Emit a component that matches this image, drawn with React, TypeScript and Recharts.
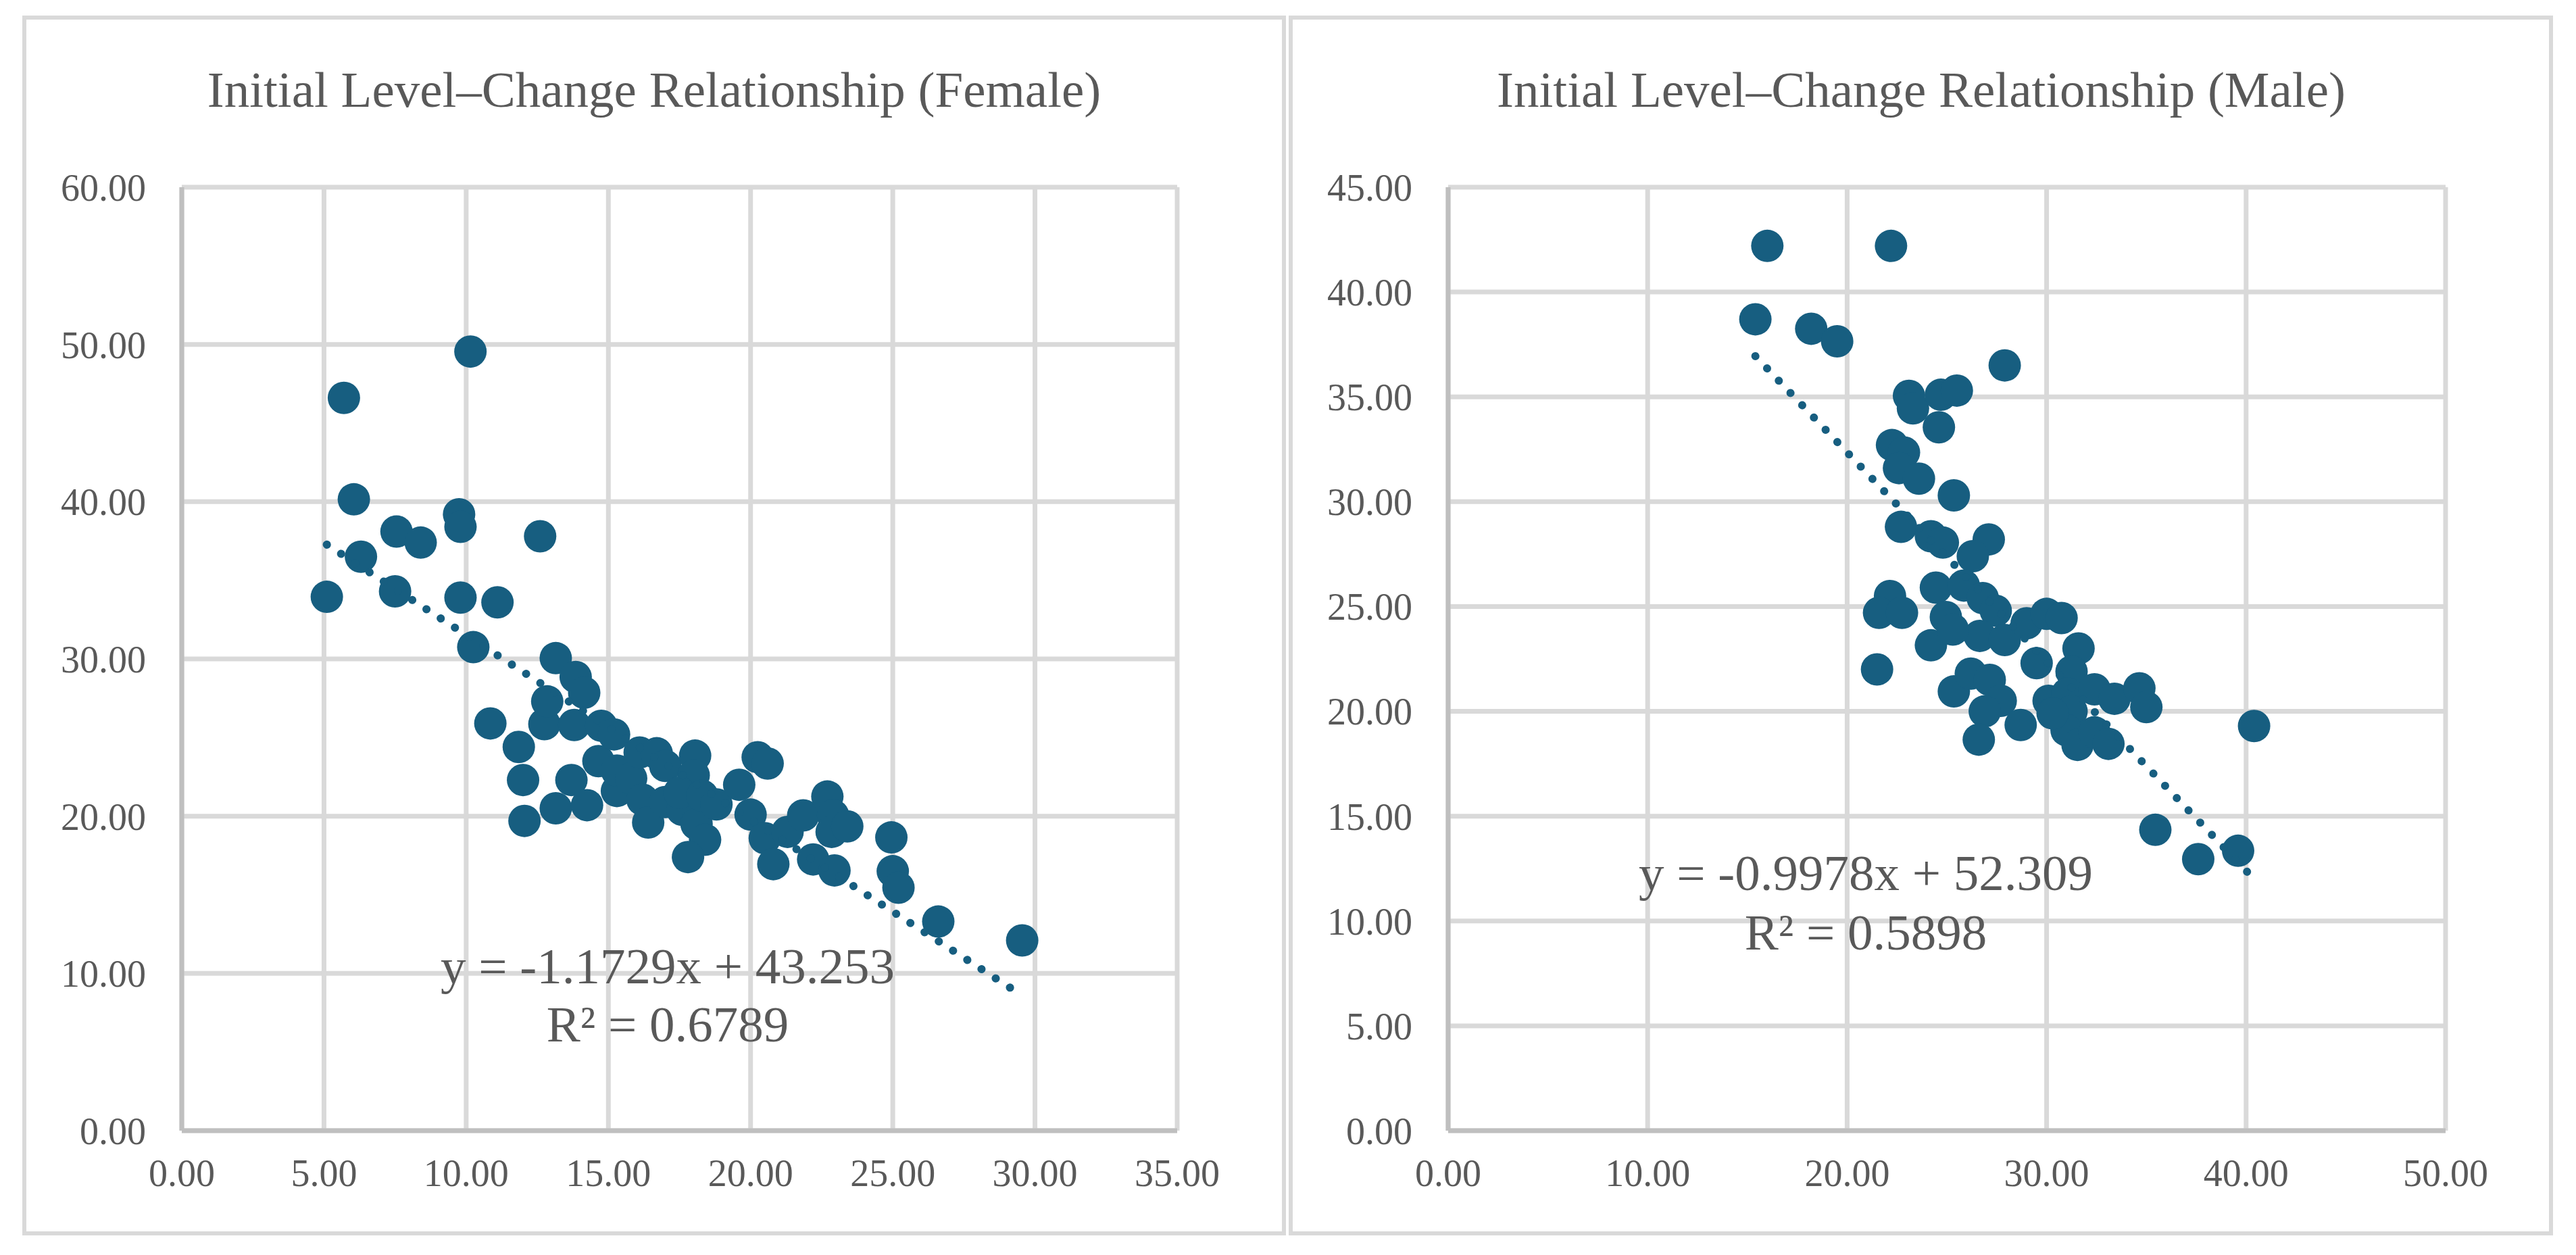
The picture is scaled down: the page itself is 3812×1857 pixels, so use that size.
import React from 'react';
import { ScatterChart, Scatter, XAxis, YAxis, CartesianGrid } from 'recharts';

// ---------- data ----------
const femaleInitial = [5.1, 5.7, 6.05, 6.3, 7.5, 7.55, 8.4, 9.75, 9.8, 9.8, 10.15, 10.25, 10.85, 11.1, 11.85, 12.0, 12.05, 12.6, 12.75, 12.85, 13.15, 13.15, 13.7, 13.8, 13.85, 14.15, 14.25, 14.65, 14.75, 15.2, 15.3, 15.3, 15.8, 16.1, 16.7, 17.0, 18.05, 18.0, 16.2, 16.4, 17.0, 17.6, 17.5, 18.1, 18.3, 18.4, 17.8, 18.8, 19.6, 20.25, 20.6, 20.0, 20.5, 21.3, 21.85, 22.7, 22.9, 22.85, 23.4, 20.8, 22.2, 22.95, 24.95, 25.0, 25.2, 26.6, 29.55];
const femaleChange = [33.95, 46.6, 40.15, 36.5, 34.3, 38.1, 37.4, 39.2, 38.4, 33.9, 49.55, 30.75, 25.9, 33.6, 24.4, 22.3, 19.7, 37.8, 25.85, 27.3, 30.05, 20.5, 22.3, 25.8, 28.85, 27.85, 20.7, 23.5, 25.75, 25.2, 21.6, 22.9, 22.4, 24.05, 24.0, 23.2, 23.85, 22.6, 21.05, 19.6, 20.9, 20.4, 21.5, 19.5, 21.3, 18.5, 17.4, 20.75, 22.0, 23.75, 23.35, 20.1, 18.6, 19.0, 20.05, 21.25, 20.05, 19.0, 19.35, 16.95, 17.25, 16.55, 18.65, 16.5, 15.45, 13.3, 12.1];

const maleInitial = [16.0, 22.2, 15.4, 18.2, 19.5, 27.9, 23.1, 23.3, 24.7, 25.5, 24.6, 22.25, 22.85, 22.6, 23.6, 25.35, 22.7, 24.2, 24.8, 27.1, 26.3, 22.15, 21.6, 22.75, 24.45, 25.85, 26.8, 27.45, 24.95, 24.2, 26.65, 27.9, 29.0, 30.0, 30.75, 29.5, 31.6, 31.25, 21.5, 25.35, 26.2, 27.15, 27.7, 26.9, 26.6, 28.7, 30.1, 31.05, 31.25, 32.4, 33.4, 34.65, 35.0, 31.0, 31.55, 32.4, 33.1, 35.45, 37.6, 39.6, 40.4, 25.3, 30.3];
const maleChange = [42.2, 42.2, 38.7, 38.25, 37.65, 36.5, 35.05, 34.45, 35.1, 35.3, 33.55, 32.7, 32.35, 31.6, 31.1, 30.3, 28.8, 28.35, 28.05, 28.2, 27.4, 25.5, 24.7, 24.7, 25.9, 26.0, 25.4, 24.8, 24.5, 23.15, 23.6, 23.4, 24.2, 24.65, 24.45, 22.3, 23.0, 21.9, 22.0, 20.95, 21.8, 21.5, 20.5, 20.0, 18.65, 19.35, 20.5, 20.85, 20.0, 21.05, 20.6, 21.1, 20.2, 19.1, 18.4, 19.0, 18.45, 14.35, 12.95, 13.35, 19.3, 23.9, 19.9];

const femaleXTicks = [0, 5, 10, 15, 20, 25, 30, 35];
const femaleYTicks = [0, 10, 20, 30, 40, 50, 60];
const maleXTicks = [0, 10, 20, 30, 40, 50];
const maleYTicks = [0, 5, 10, 15, 20, 25, 30, 35, 40, 45];

const femaleTitle = 'Initial Level–Change Relationship (Female)';
const maleTitle = 'Initial Level–Change Relationship (Male)';
const femaleEquation = 'y = -1.1729x + 43.253';
const femaleR2 = 'R² = 0.6789';
const maleEquation = 'y = -0.9978x + 52.309';
const maleR2 = 'R² = 0.5898';
const femaleSlope = -1.1729;
const femaleIntercept = 43.253;
const maleSlope = -0.9978;
const maleIntercept = 52.309;

// ---------- styles ----------
const FONT = '"Liberation Serif", "Times New Roman", serif';
const TEXT = '#595959';
const GRID = '#d9d9d9';
const AXIS = '#bfbfbf';
const MARK = '#175e80';

const toPoints = (xs: number[], ys: number[]) => xs.map((x, i) => ({ x, y: ys[i] }));
const trend = (xs: number[], slope: number, intercept: number) => {
  const lo = Math.min(...xs);
  const hi = Math.max(...xs);
  return [
    { x: lo, y: slope * lo + intercept },
    { x: hi, y: slope * hi + intercept },
  ];
};

const Dot = (p: any) => <circle cx={p.cx} cy={p.cy} r={24} fill={MARK} />;
const NoShape = () => <g />;
const fmt = (v: number) => v.toFixed(2);

type PanelProps = {
  left: number;
  xs: number[];
  ys: number[];
  slope: number;
  intercept: number;
  xTicks: number[];
  yTicks: number[];
  margin: { top: number; right: number; bottom: number; left: number };
};

const Panel = ({ left, xs, ys, slope, intercept, xTicks, yTicks, margin }: PanelProps) => {
  const data = toPoints(xs, ys);
  const line = trend(xs, slope, intercept);
  const tickStyle = { fontSize: 56, fill: TEXT, fontFamily: FONT };
  return (
    <div style={{ position: 'absolute', left, top: 0, width: 1906, height: 1857 }}>
      <ScatterChart width={1906} height={1857} margin={margin}>
        <CartesianGrid stroke={GRID} strokeWidth={7} />
        <XAxis
          type="number"
          dataKey="x"
          domain={[xTicks[0], xTicks[xTicks.length - 1]]}
          ticks={xTicks}
          tickFormatter={fmt}
          tick={tickStyle}
          tickLine={false}
          tickSize={0}
          tickMargin={42}
          axisLine={{ stroke: AXIS, strokeWidth: 7 }}
          height={100}
          allowDataOverflow
        />
        <YAxis
          type="number"
          dataKey="y"
          domain={[yTicks[0], yTicks[yTicks.length - 1]]}
          ticks={yTicks}
          tickFormatter={fmt}
          tick={tickStyle}
          tickLine={false}
          tickSize={0}
          tickMargin={53}
          axisLine={{ stroke: AXIS, strokeWidth: 7 }}
          width={200}
          allowDataOverflow
        />
        <Scatter data={data} shape={Dot} isAnimationActive={false} />
        <Scatter
          data={line}
          shape={NoShape}
          line={{ stroke: MARK, strokeWidth: 12, strokeDasharray: '0.1 25', strokeLinecap: 'round' }}
          isAnimationActive={false}
        />
      </ScatterChart>
    </div>
  );
};

export default function App() {
  return (
    <div style={{ position: 'absolute', left: 0, top: 0, width: 3812, height: 1857, background: '#fff', overflow: 'hidden' }}>
      <div style={{ position: 'absolute', left: 33, top: 23, width: 1870, height: 1805, boxSizing: 'border-box', border: `6px solid ${GRID}` }} />
      <div style={{ position: 'absolute', left: 1907, top: 23, width: 1871, height: 1805, boxSizing: 'border-box', border: `6px solid ${GRID}` }} />
      <Panel
        left={0}
        xs={femaleInitial}
        ys={femaleChange}
        slope={femaleSlope}
        intercept={femaleIntercept}
        xTicks={femaleXTicks}
        yTicks={femaleYTicks}
        margin={{ top: 277, right: 164, bottom: 84, left: 69 }}
      />
      <Panel
        left={1906}
        xs={maleInitial}
        ys={maleChange}
        slope={maleSlope}
        intercept={maleIntercept}
        xTicks={maleXTicks}
        yTicks={maleYTicks}
        margin={{ top: 277, right: 193, bottom: 84, left: 37 }}
      />
      <svg width={3812} height={1857} style={{ position: 'absolute', left: 0, top: 0, pointerEvents: 'none' }}>
        <g fontFamily={FONT} fill={TEXT} textAnchor="middle">
          <text x={968} y={158} fontSize={75}>{femaleTitle}</text>
          <text x={2843} y={158} fontSize={75}>{maleTitle}</text>
          <text x={988} y={1455} fontSize={75}>{femaleEquation}</text>
          <text x={988} y={1541} fontSize={75}>{femaleR2}</text>
          <text x={2761} y={1317} fontSize={75}>{maleEquation}</text>
          <text x={2761} y={1405} fontSize={75}>{maleR2}</text>
        </g>
      </svg>
    </div>
  );
}
